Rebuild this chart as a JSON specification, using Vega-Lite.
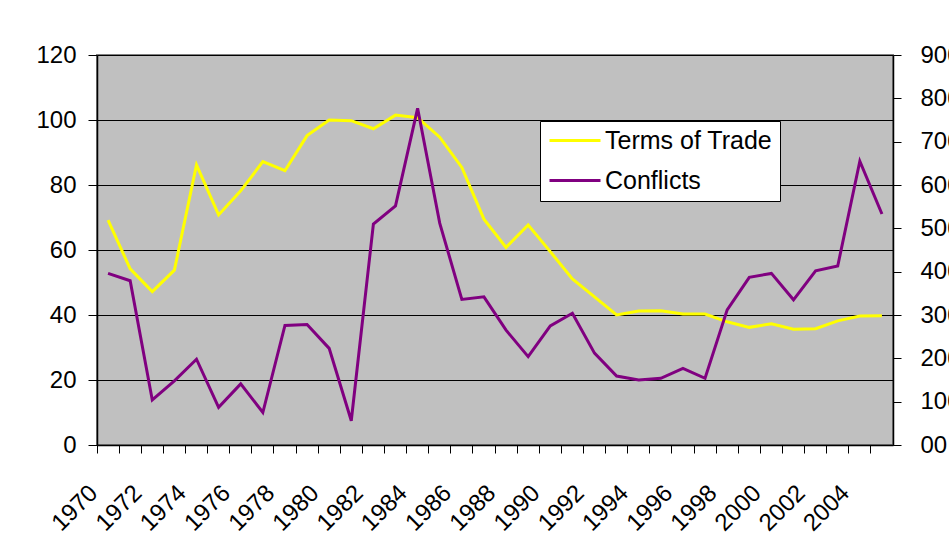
{
  "$schema": "https://vega.github.io/schema/vega-lite/v6.json",
  "width": 796,
  "height": 390,
  "autosize": {"type": "none"},
  "padding": {"left": 97, "top": 55, "right": 56, "bottom": 102},
  "background": "white",
  "config": {
    "font": "Liberation Sans",
    "view": {"fill": "#C0C0C0", "stroke": "#808080", "strokeWidth": 2},
    "axis": {
      "labelFont": "Liberation Sans",
      "labelFontSize": 24,
      "labelColor": "black",
      "domainColor": "black",
      "domainWidth": 1.5,
      "tickColor": "black",
      "tickWidth": 1,
      "title": null
    }
  },
  "data": {
    "values": [
      {"year": 1970, "tot": 69.2, "conflicts": 396},
      {"year": 1971, "tot": 54.2, "conflicts": 379},
      {"year": 1972, "tot": 47.2, "conflicts": 104},
      {"year": 1973, "tot": 53.8, "conflicts": 148},
      {"year": 1974, "tot": 86.2, "conflicts": 198},
      {"year": 1975, "tot": 70.8, "conflicts": 87},
      {"year": 1976, "tot": 78.2, "conflicts": 141},
      {"year": 1977, "tot": 87.2, "conflicts": 75},
      {"year": 1978, "tot": 84.4, "conflicts": 276},
      {"year": 1979, "tot": 95.2, "conflicts": 278},
      {"year": 1980, "tot": 100.0, "conflicts": 223},
      {"year": 1981, "tot": 99.8, "conflicts": 56},
      {"year": 1982, "tot": 97.3, "conflicts": 510},
      {"year": 1983, "tot": 101.5, "conflicts": 552},
      {"year": 1984, "tot": 100.7, "conflicts": 777},
      {"year": 1985, "tot": 94.7, "conflicts": 512},
      {"year": 1986, "tot": 85.4, "conflicts": 336},
      {"year": 1987, "tot": 69.5, "conflicts": 342},
      {"year": 1988, "tot": 60.8, "conflicts": 265},
      {"year": 1989, "tot": 67.7, "conflicts": 204},
      {"year": 1990, "tot": 59.5, "conflicts": 275},
      {"year": 1991, "tot": 51.1, "conflicts": 304},
      {"year": 1992, "tot": 45.6, "conflicts": 212},
      {"year": 1993, "tot": 40.0, "conflicts": 159},
      {"year": 1994, "tot": 41.2, "conflicts": 150},
      {"year": 1995, "tot": 41.3, "conflicts": 154},
      {"year": 1996, "tot": 40.3, "conflicts": 177},
      {"year": 1997, "tot": 40.3, "conflicts": 154},
      {"year": 1998, "tot": 37.9, "conflicts": 312},
      {"year": 1999, "tot": 36.2, "conflicts": 387},
      {"year": 2000, "tot": 37.3, "conflicts": 396},
      {"year": 2001, "tot": 35.6, "conflicts": 335},
      {"year": 2002, "tot": 35.8, "conflicts": 402},
      {"year": 2003, "tot": 38.2, "conflicts": 413},
      {"year": 2004, "tot": 39.7, "conflicts": 655},
      {"year": 2005, "tot": 39.8, "conflicts": 533}
    ]
  },
  "encoding": {
    "x": {
      "field": "year",
      "type": "ordinal",
      "scale": {"type": "band", "paddingInner": 0, "paddingOuter": 0},
      "axis": {
        "bandPosition": 0,
        "labelAngle": -45,
        "labelAlign": "right",
        "labelBaseline": "middle",
        "labelExpr": "datum.value % 2 == 0 ? datum.label : ''",
        "labelOffset": -14,
        "labelPadding": 36,
        "tickSize": 8,
        "grid": false,
        "labelOverlap": false
      }
    }
  },
  "layer": [
    {
      "mark": {"type": "line", "strokeWidth": 3},
      "encoding": {
        "y": {
          "field": "tot",
          "type": "quantitative",
          "scale": {"domain": [0, 120], "nice": false},
          "axis": {
            "orient": "left",
            "values": [0, 20, 40, 60, 80, 100, 120],
            "grid": true,
            "gridColor": "black",
            "gridWidth": 1,
            "tickSize": 9,
            "labelPadding": 12
          }
        },
        "color": {
          "datum": "Terms of Trade",
          "type": "nominal",
          "scale": {"domain": ["Terms of Trade", "Conflicts"], "range": ["#FFFF00", "#800080"]},
          "legend": {
            "orient": "none",
            "legendX": 443,
            "legendY": 66,
            "title": null,
            "fillColor": "white",
            "strokeColor": "black",
            "padding": 7,
            "symbolType": "M-1,0L4.1,0",
            "symbolSize": 400,
            "symbolStrokeWidth": 3,
            "symbolFillColor": "transparent",
            "labelFont": "Liberation Sans",
            "labelFontSize": 25,
            "labelColor": "black",
            "labelLimit": 400,
            "labelOffset": 33,
            "rowPadding": 14
          }
        }
      }
    },
    {
      "mark": {"type": "line", "strokeWidth": 3},
      "encoding": {
        "y": {
          "field": "conflicts",
          "type": "quantitative",
          "scale": {"domain": [0, 900], "nice": false},
          "axis": {
            "orient": "right",
            "values": [0, 100, 200, 300, 400, 500, 600, 700, 800, 900],
            "grid": false,
            "tickSize": 8,
            "labelPadding": 19,
            "labelExpr": "datum.value == 0 ? '00' : datum.label"
          }
        },
        "color": {"datum": "Conflicts", "type": "nominal"}
      }
    }
  ],
  "resolve": {"scale": {"y": "independent"}}
}
